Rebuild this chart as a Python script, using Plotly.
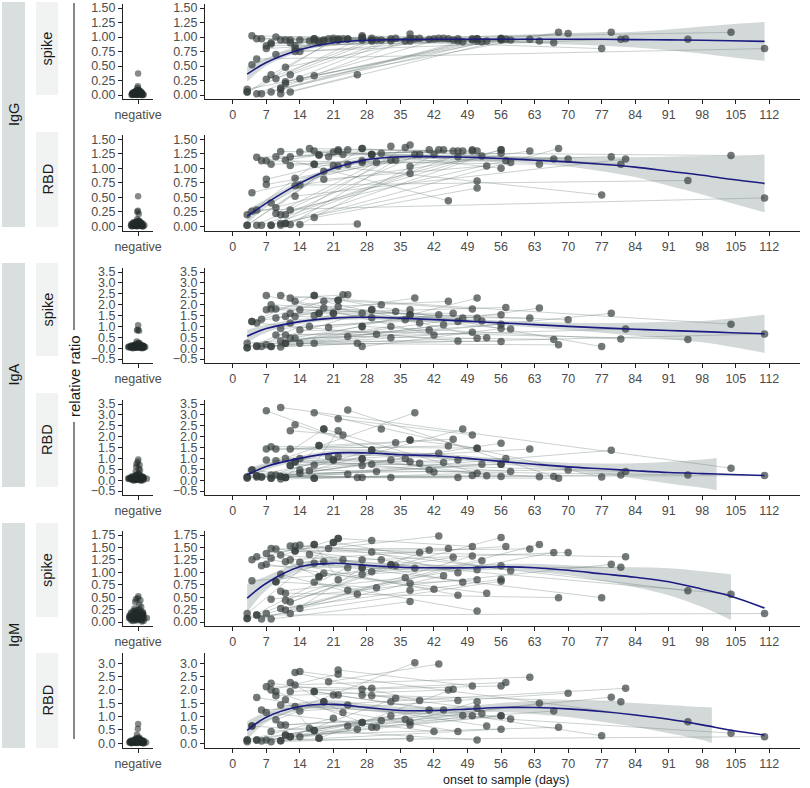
import plotly.graph_objects as go

W, H = 810, 788

# sample days for each patient (same samples in all six panels)
patient_days = [
    [3, 27], [3, 56], [3, 21], [4, 38], [4, 17], [5, 33], [5, 47], [5, 111], [6, 24], [6, 50],
    [7, 29], [7, 42], [7, 64], [8, 37], [8, 51], [8, 22], [8, 79], [9, 30], [9, 45], [9, 19],
    [10, 36], [10, 56], [10, 26], [10, 104], [11, 41], [11, 52], [11, 18], [11, 68], [12, 34], [12, 57],
    [12, 23], [13, 39], [13, 62], [13, 82], [14, 44], [14, 70], [14, 95], [16, 48], [17, 51], [17, 77],
    [18, 46], [19, 53], [20, 43], [21, 58], [22, 50], [24, 67], [27, 56], [27, 81], [29, 47], [29, 56],
    [31], [33], [37], [37, 51], [17, 22], [12, 27],
]

igg_spike = [
    [0.05, 0.98], [0.10, 0.96], [0.05, 0.95], [1.02, 0.97], [0.52, 0.97], [0.02, 0.93], [0.97, 0.97], [0.62, 0.80], [0.97, 0.97], [0.02, 0.97],
    [0.27, 0.95], [0.80, 0.97], [0.85, 0.93], [0.88, 0.98], [0.05, 0.97], [0.35, 0.97], [0.90, 1.08], [0.28, 0.95], [1.00, 0.97], [0.70, 0.93],
    [0.12, 0.93], [0.10, 0.98], [0.02, 0.35], [0.95, 1.08], [0.48, 0.96], [0.23, 0.92], [0.95, 0.93], [0.20, 1.08], [0.35, 0.98], [0.05, 0.96],
    [0.90, 0.97], [0.80, 0.98], [0.85, 0.96], [0.75, 0.97], [0.28, 0.98], [0.75, 1.06], [0.95, 0.96], [0.93, 0.92], [0.33, 0.93], [0.97, 0.80],
    [0.90, 0.95], [0.95, 0.93], [0.97, 0.98], [0.98, 0.95], [0.95, 0.95], [0.96, 0.90], [1.02, 0.97], [0.95, 0.96], [0.98, 0.93], [0.93, 0.95],
    [0.95], [0.97], [1.05], [0.93, 0.97], [0.93, 0.95], [0.95, 1.00],
]
igg_rbd = [
    [0.02, 1.34], [0.20, 1.32], [0.02, 1.05], [0.58, 1.24], [0.26, 1.07], [0.02, 1.14], [1.19, 1.30], [0.28, 0.49], [1.13, 1.32], [0.02, 1.32],
    [0.81, 1.24], [0.72, 1.24], [1.13, 1.07], [0.02, 0.91], [0.02, 0.78], [0.40, 1.04], [1.07, 1.20], [0.22, 1.10], [1.20, 0.44], [0.32, 0.95],
    [0.05, 1.36], [0.20, 1.32], [0.02, 0.04], [1.29, 1.22], [0.20, 1.32], [0.05, 1.21], [1.14, 1.23], [0.05, 1.34], [0.03, 1.14], [0.28, 1.13],
    [1.20, 1.24], [0.83, 1.24], [0.70, 1.30], [0.52, 1.16], [0.03, 1.32], [1.28, 1.16], [0.71, 0.79], [1.34, 1.30], [0.15, 0.66], [1.07, 0.54],
    [1.23, 1.30], [0.81, 1.04], [1.20, 1.32], [1.28, 1.10], [1.32, 1.30], [1.07, 1.16], [1.10, 1.26], [1.34, 1.07], [1.24, 1.20], [1.24, 1.00],
    [1.26], [1.38], [1.40], [1.03, 1.30], [1.30, 1.30], [1.05, 1.13],
]
iga_spike = [
    [0.02, 1.60], [0.22, 1.10], [0.02, 1.60], [1.22, 2.30], [1.22, 2.42], [0.10, 1.00], [1.15, 0.33], [0.08, 0.65], [1.33, 2.45], [0.07, 0.73],
    [1.76, 1.76], [2.42, 0.60], [0.15, 1.84], [0.07, 1.53], [2.00, 1.38], [1.80, 2.20], [0.07, 1.60], [0.60, 0.64], [1.80, 2.15], [1.38, 1.84],
    [0.90, 1.30], [0.33, 0.30], [0.05, 0.22], [2.42, 1.10], [0.60, 0.83], [0.22, 1.25], [1.45, 1.60], [0.22, 0.15], [1.15, 1.68], [1.60, 1.87],
    [2.30, 2.45], [2.15, 1.15], [1.45, 1.38], [0.45, 0.88], [0.22, 1.07], [1.76, 1.30], [0.83, 0.40], [1.00, 1.38], [0.22, 0.45], [2.42, 0.07],
    [1.60, 1.60], [2.15, 0.48], [0.95, 1.53], [1.60, 0.88], [2.20, 1.80], [0.53, 0.40], [0.07, 0.90], [1.00, 0.42], [1.76, 1.22], [1.40, 1.53],
    [2.00], [0.48], [1.76], [1.53, 2.30], [1.50, 1.90], [0.45, 1.00],
]
iga_rbd = [
    [0.09, 0.67], [0.14, 0.73], [0.14, 0.93], [0.47, 3.10], [0.47, 0.09], [0.20, 0.93], [0.20, 0.12], [0.14, 0.21], [0.14, 0.27], [0.14, 0.21],
    [1.43, 1.39], [3.19, 0.37], [0.93, 0.15], [0.09, 1.85], [1.54, 1.47], [0.24, 1.08], [0.09, 1.37], [0.24, 0.40], [1.43, 1.57], [0.89, 2.35],
    [0.17, 1.00], [0.17, 1.70], [0.05, 0.12], [3.34, 0.55], [1.00, 0.47], [0.12, 0.73], [0.12, 1.59], [0.12, 0.09], [1.43, 1.72], [0.67, 1.00],
    [2.27, 2.08], [2.55, 0.78], [0.85, 1.43], [0.85, 0.40], [1.00, 0.81], [0.32, 0.47], [0.47, 0.24], [0.43, 2.35], [0.09, 0.32], [3.10, 0.14],
    [1.59, 1.88], [2.35, 0.20], [1.08, 1.24], [0.93, 0.40], [2.82, 2.08], [3.22, 0.17], [0.98, 0.17], [0.12, 0.24], [1.39, 0.93], [0.73, 0.73],
    [2.35], [0.12], [0.85], [1.85, 1.47], [0.70, 2.27], [0.67, 0.98],
]
igm_spike = [
    [0.07, 1.25], [0.07, 0.82], [0.17, 1.60], [0.83, 1.08], [1.25, 1.56], [0.14, 1.15], [1.31, 0.54], [0.14, 0.17], [1.13, 1.09], [0.06, 1.33],
    [1.38, 1.64], [1.16, 0.66], [0.17, 1.56], [0.06, 0.41], [1.48, 1.05], [1.28, 1.68], [0.46, 1.16], [0.81, 0.69], [1.47, 1.48], [0.81, 1.21],
    [0.62, 0.89], [0.27, 0.86], [0.96, 0.56], [1.35, 0.56], [0.44, 1.45], [0.24, 1.23], [1.21, 0.91], [0.58, 0.49], [0.40, 1.13], [1.25, 1.52],
    [1.53, 1.25], [1.53, 1.40], [1.43, 1.47], [1.43, 1.31], [0.27, 0.93], [1.20, 1.40], [1.55, 0.63], [1.36, 0.80], [0.80, 0.22], [1.18, 0.49],
    [0.91, 1.30], [0.98, 0.58], [1.48, 1.73], [1.60, 1.03], [1.68, 1.52], [0.64, 1.40], [0.96, 1.13], [1.09, 1.10], [1.41, 0.99], [1.01, 1.70],
    [1.25], [1.15], [0.64], [0.78, 0.85], [1.56, 0.85], [0.17, 1.09],
]
igm_rbd = [
    [0.12, 0.78], [0.06, 1.03], [0.12, 0.94], [0.65, 3.02], [0.65, 0.48], [0.12, 1.03], [1.72, 0.44], [0.12, 0.25], [1.25, 1.44], [0.09, 1.03],
    [2.12, 2.06], [1.15, 0.44], [0.12, 1.50], [0.06, 0.19], [2.25, 1.31], [2.00, 2.59], [0.44, 1.73], [1.94, 0.60], [1.78, 2.00], [0.88, 1.56],
    [0.69, 0.90], [0.10, 0.53], [0.10, 0.53], [1.44, 0.38], [0.31, 1.25], [0.69, 1.12], [1.63, 0.19], [0.31, 0.60], [0.25, 1.69], [1.94, 2.28],
    [2.28, 1.15], [2.65, 1.60], [2.19, 2.48], [1.38, 2.06], [0.25, 1.25], [1.21, 1.88], [2.69, 0.81], [0.56, 1.04], [0.48, 0.12], [1.94, 0.28],
    [0.19, 2.03], [1.56, 0.65], [2.31, 2.97], [1.81, 0.91], [2.75, 2.15], [0.65, 1.21], [2.03, 2.15], [1.81, 1.56], [1.78, 1.60], [0.60, 1.03],
    [0.85], [1.56], [0.69], [0.81, 1.56], [1.94, 1.81], [0.25, 0.78],
]

# negative controls
neg_igg_spike = [0.37, 0.15, 0.12, 0.09, 0.08, 0.08, 0.07, 0.07, 0.06, 0.06, 0.06, 0.05, 0.05, 0.05, 0.05, 0.04, 0.04, 0.04, 0.04, 0.03,
                 0.03, 0.03, 0.03, 0.03, 0.02, 0.02, 0.02, 0.02, 0.02, 0.02, 0.01, 0.01, 0.01, 0.01, 0.01, 0.00, 0.00, 0.00, 0.00, 0.00,
                 0.06, 0.05, 0.04, 0.04, 0.03, 0.03, 0.02, 0.02, 0.02, 0.01, 0.01, 0.01, 0.00, 0.00, 0.03, 0.02, 0.05, 0.04, 0.01, 0.03]
neg_igg_rbd = [0.52, 0.27, 0.25, 0.21, 0.12, 0.10, 0.09, 0.08, 0.08, 0.07, 0.07, 0.06, 0.06, 0.06, 0.05, 0.05, 0.05, 0.05, 0.04, 0.04,
               0.04, 0.04, 0.03, 0.03, 0.03, 0.03, 0.02, 0.02, 0.02, 0.02, 0.02, 0.01, 0.01, 0.01, 0.01, 0.00, 0.00, 0.00, 0.00, 0.00,
               0.08, 0.07, 0.06, 0.05, 0.05, 0.04, 0.03, 0.03, 0.02, 0.02, 0.01, 0.01, 0.00, 0.00, 0.04, 0.03, 0.06, 0.02, 0.01, 0.05]
neg_iga_spike = [1.05, 0.85, 0.82, 0.80, 0.30, 0.25, 0.22, 0.20, 0.18, 0.17, 0.15, 0.15, 0.14, 0.13, 0.12, 0.12, 0.11, 0.10, 0.10, 0.09,
                 0.09, 0.08, 0.08, 0.07, 0.07, 0.06, 0.06, 0.05, 0.05, 0.05, 0.04, 0.04, 0.03, 0.03, 0.02, 0.02, 0.01, 0.01, 0.00, 0.00,
                 0.14, 0.12, 0.11, 0.10, 0.09, 0.08, 0.07, 0.06, 0.06, 0.05, 0.04, 0.04, 0.03, 0.02, 0.08, 0.10, 0.05, 0.07, 0.03, 0.12]
neg_iga_rbd = [0.95, 0.85, 0.75, 0.70, 0.62, 0.55, 0.45, 0.38, 0.32, 0.28, 0.25, 0.22, 0.20, 0.18, 0.17, 0.16, 0.15, 0.14, 0.13, 0.12,
               0.11, 0.10, 0.10, 0.09, 0.08, 0.08, 0.07, 0.06, 0.06, 0.05, 0.05, 0.04, 0.03, 0.02, 0.02, 0.01, 0.00, -0.01, -0.02, -0.03,
               0.20, 0.18, 0.15, 0.14, 0.12, 0.11, 0.10, 0.09, 0.08, 0.07, 0.06, 0.05, 0.04, 0.03, 0.12, 0.09, 0.06, 0.16, 0.02, 0.10]
neg_igm_spike = [0.52, 0.48, 0.46, 0.44, 0.40, 0.35, 0.30, 0.27, 0.25, 0.24, 0.23, 0.22, 0.21, 0.20, 0.19, 0.18, 0.17, 0.16, 0.15, 0.15,
                 0.14, 0.13, 0.12, 0.12, 0.11, 0.10, 0.10, 0.09, 0.08, 0.08, 0.07, 0.07, 0.06, 0.05, 0.05, 0.04, 0.04, 0.03, 0.03, 0.02,
                 0.02, 0.01, 0.22, 0.20, 0.18, 0.16, 0.14, 0.13, 0.12, 0.11, 0.10, 0.09, 0.08, 0.07, 0.06, 0.05, 0.15, 0.12, 0.09, 0.19]
neg_igm_rbd = [0.72, 0.55, 0.32, 0.22, 0.20, 0.18, 0.16, 0.15, 0.14, 0.13, 0.12, 0.11, 0.10, 0.10, 0.09, 0.09, 0.08, 0.08, 0.07, 0.07,
               0.06, 0.06, 0.05, 0.05, 0.05, 0.04, 0.04, 0.04, 0.03, 0.03, 0.03, 0.02, 0.02, 0.02, 0.01, 0.01, 0.01, 0.00, 0.00, 0.00,
               0.14, 0.12, 0.11, 0.10, 0.09, 0.08, 0.07, 0.06, 0.05, 0.04, 0.03, 0.03, 0.02, 0.01, 0.08, 0.06, 0.10, 0.04, 0.12, 0.05]

# smooth fits (blue line) and their confidence bands
fit_days = [3, 7, 14, 21, 28, 35, 42, 49, 56, 63, 70, 77, 84, 91, 98, 104, 111]
igg_spike_fit = [0.36, 0.56, 0.78, 0.90, 0.945, 0.955, 0.96, 0.96, 0.96, 0.96, 0.96, 0.96, 0.955, 0.95, 0.945, 0.935, 0.925]
igg_spike_hi = [0.49, 0.62, 0.82, 0.93, 0.97, 0.98, 0.99, 0.99, 1.01, 1.03, 1.05, 1.07, 1.09, 1.13, 1.18, 1.22, 1.26]
igg_spike_lo = [0.23, 0.50, 0.74, 0.87, 0.92, 0.93, 0.93, 0.93, 0.91, 0.89, 0.87, 0.85, 0.82, 0.77, 0.71, 0.65, 0.59]
igg_rbd_fit = [0.17, 0.40, 0.74, 1.00, 1.15, 1.20, 1.20, 1.19, 1.17, 1.14, 1.11, 1.07, 1.02, 0.95, 0.88, 0.81, 0.74]
igg_rbd_hi = [0.29, 0.47, 0.79, 1.04, 1.19, 1.24, 1.24, 1.23, 1.22, 1.20, 1.19, 1.19, 1.19, 1.20, 1.21, 1.22, 1.24]
igg_rbd_lo = [0.05, 0.33, 0.69, 0.96, 1.11, 1.16, 1.16, 1.15, 1.12, 1.08, 1.03, 0.95, 0.85, 0.70, 0.55, 0.40, 0.24]
iga_spike_fit = [0.55, 0.90, 1.22, 1.38, 1.42, 1.38, 1.31, 1.24, 1.16, 1.08, 1.00, 0.93, 0.87, 0.81, 0.76, 0.71, 0.66]
iga_spike_hi = [0.85, 1.08, 1.34, 1.48, 1.52, 1.48, 1.41, 1.34, 1.27, 1.21, 1.17, 1.15, 1.17, 1.21, 1.25, 1.36, 1.54]
iga_spike_lo = [0.25, 0.72, 1.10, 1.28, 1.32, 1.28, 1.21, 1.14, 1.05, 0.95, 0.83, 0.71, 0.57, 0.41, 0.27, 0.06, -0.22]
iga_rbd_fit = [0.24, 0.63, 1.00, 1.24, 1.25, 1.17, 1.12, 1.00, 0.86, 0.73, 0.61, 0.52, 0.43, 0.35, 0.30, 0.26, 0.21]
iga_rbd_band_days = [3, 7, 14, 21, 28, 35, 42, 49, 56, 63, 70, 77, 84, 91, 98, 101]
iga_rbd_hi = [0.54, 0.80, 1.12, 1.36, 1.37, 1.29, 1.24, 1.12, 0.99, 0.88, 0.79, 0.77, 0.78, 0.85, 0.95, 1.02]
iga_rbd_lo = [-0.06, 0.46, 0.88, 1.12, 1.13, 1.05, 1.00, 0.88, 0.73, 0.58, 0.43, 0.27, 0.08, -0.15, -0.35, -0.46]
igm_spike_fit = [0.48, 0.78, 1.11, 1.18, 1.14, 1.10, 1.09, 1.09, 1.11, 1.09, 1.04, 0.97, 0.90, 0.81, 0.66, 0.52, 0.28]
igm_spike_band_days = [3, 7, 14, 21, 28, 35, 42, 49, 56, 63, 70, 77, 84, 91, 98, 104]
igm_spike_hi = [0.77, 0.92, 1.19, 1.25, 1.20, 1.16, 1.15, 1.15, 1.17, 1.17, 1.14, 1.11, 1.10, 1.08, 1.02, 0.96]
igm_spike_lo = [0.19, 0.64, 1.03, 1.11, 1.08, 1.04, 1.03, 1.03, 1.05, 1.01, 0.94, 0.83, 0.70, 0.54, 0.30, 0.04]
igm_rbd_fit = [0.48, 0.98, 1.38, 1.46, 1.34, 1.23, 1.23, 1.28, 1.34, 1.34, 1.29, 1.19, 1.06, 0.90, 0.69, 0.49, 0.31]
igm_rbd_band_days = [3, 7, 14, 21, 28, 35, 42, 49, 56, 63, 70, 77, 84, 91, 98, 100]
igm_rbd_hi = [0.83, 1.18, 1.53, 1.61, 1.47, 1.36, 1.36, 1.41, 1.51, 1.59, 1.59, 1.57, 1.51, 1.44, 1.36, 1.34]
igm_rbd_lo = [0.13, 0.78, 1.23, 1.31, 1.21, 1.10, 1.10, 1.15, 1.17, 1.09, 0.99, 0.81, 0.61, 0.38, 0.12, 0.00]

day_ticks = [0, 7, 14, 21, 28, 35, 42, 49, 56, 63, 70, 77, 84, 91, 98, 105, 112]
ticks_igg = [0, 0.25, 0.5, 0.75, 1.0, 1.25, 1.5]
ticks_iga = [-0.5, 0, 0.5, 1.0, 1.5, 2.0, 2.5, 3.0, 3.5]
ticks_igm_spike = [0, 0.25, 0.5, 0.75, 1.0, 1.25, 1.5, 1.75]
ticks_igm_rbd = [0, 0.5, 1.0, 1.5, 2.0, 2.5, 3.0]

FONT = "Liberation Sans, Arial, sans-serif"
tick_font = dict(family=FONT, size=12.5, color="#4d4d4d")
AX = "#222222"

rows = [
    dict(antigen="spike", vals=igg_spike, neg=neg_igg_spike, fit=igg_spike_fit, band=fit_days,
         lo=igg_spike_lo, hi=igg_spike_hi, top=3.65, bot=99.35, yr=[-0.075, 1.575], ticks=ticks_igg, fmt=".2f", strip=(2, 95)),
    dict(antigen="RBD", vals=igg_rbd, neg=neg_igg_rbd, fit=igg_rbd_fit, band=fit_days,
         lo=igg_rbd_lo, hi=igg_rbd_hi, top=134.95, bot=230.65, yr=[-0.075, 1.575], ticks=ticks_igg, fmt=".2f", strip=(132, 227)),
    dict(antigen="spike", vals=iga_spike, neg=neg_iga_spike, fit=iga_spike_fit, band=fit_days,
         lo=iga_spike_lo, hi=iga_spike_hi, top=267.65, bot=363.35, yr=[-0.7, 3.7], ticks=ticks_iga, fmt=".1f", strip=(263, 356)),
    dict(antigen="RBD", vals=iga_rbd, neg=neg_iga_rbd, fit=iga_rbd_fit, band=iga_rbd_band_days,
         lo=iga_rbd_lo, hi=iga_rbd_hi, top=399.65, bot=495.35, yr=[-0.7, 3.7], ticks=ticks_iga, fmt=".1f", strip=(393, 487)),
    dict(antigen="spike", vals=igm_spike, neg=neg_igm_spike, fit=igm_spike_fit, band=igm_spike_band_days,
         lo=igm_spike_lo, hi=igm_spike_hi, top=530.65, bot=626.35, yr=[-0.0875, 1.8375], ticks=ticks_igm_spike, fmt=".2f", strip=(523, 617)),
    dict(antigen="RBD", vals=igm_rbd, neg=neg_igm_rbd, fit=igm_rbd_fit, band=igm_rbd_band_days,
         lo=igm_rbd_lo, hi=igm_rbd_hi, top=652.6, bot=747.7, yr=[-0.165, 3.4], ticks=ticks_igm_rbd, fmt=".1f", strip=(653, 748)),
]
groups = [("IgG", 2, 227), ("IgA", 263, 487), ("IgM", 523, 748)]


def px_x(x):
    return x / W


def px_y(y):
    return 1 - y / H


def axis_style(**kw):
    d = dict(showline=True, linecolor=AX, linewidth=1, ticks="outside", ticklen=4, tickwidth=1,
             tickcolor=AX, showgrid=False, zeroline=False, tickfont=tick_font, fixedrange=True,
             automargin=False)
    d.update(kw)
    return d


fig = go.Figure()
layout = {}
shapes = []
annotations = []

for i, r in enumerate(rows):
    n_neg, n_main = 2 * i + 1, 2 * i + 2
    xa_neg = "x" if n_neg == 1 else "x%d" % n_neg
    ya_neg = "y" if n_neg == 1 else "y%d" % n_neg
    xa_main, ya_main = "x%d" % n_main, "y%d" % n_main

    # negative controls
    fig.add_trace(go.Box(
        x=["negative"] * len(r["neg"]), y=r["neg"], xaxis=xa_neg, yaxis=ya_neg,
        boxpoints="all", jitter=1, pointpos=0, width=0.8,
        fillcolor="rgba(0,0,0,0)", line=dict(color="rgba(0,0,0,0)", width=0),
        marker=dict(size=6.5, color="rgba(35,42,41,0.55)", line=dict(width=0)),
        showlegend=False, hoverinfo="y"))

    # confidence band
    fig.add_trace(go.Scatter(x=r["band"], y=r["lo"], xaxis=xa_main, yaxis=ya_main, mode="lines",
                             line=dict(width=0, shape="spline"), showlegend=False, hoverinfo="skip"))
    fig.add_trace(go.Scatter(x=r["band"], y=r["hi"], xaxis=xa_main, yaxis=ya_main, mode="lines",
                             line=dict(width=0, shape="spline"), fill="tonexty",
                             fillcolor="rgba(145,160,158,0.4)", showlegend=False, hoverinfo="skip"))

    # per-patient lines and points
    lx, ly, px, py = [], [], [], []
    for d, v in zip(patient_days, r["vals"]):
        lx += d + [None]
        ly += v + [None]
        px += d
        py += v
    fig.add_trace(go.Scatter(x=lx, y=ly, xaxis=xa_main, yaxis=ya_main, mode="lines",
                             line=dict(color="rgba(110,125,123,0.45)", width=0.8),
                             showlegend=False, hoverinfo="skip"))
    fig.add_trace(go.Scatter(x=px, y=py, xaxis=xa_main, yaxis=ya_main, mode="markers",
                             marker=dict(size=7.5, color="rgba(55,63,62,0.7)", line=dict(width=0)),
                             showlegend=False))

    # smooth fit
    fig.add_trace(go.Scatter(x=fit_days, y=r["fit"], xaxis=xa_main, yaxis=ya_main, mode="lines",
                             line=dict(color="#1b1b82", width=1.6, shape="spline"),
                             showlegend=False, hoverinfo="skip"))

    ydom = [px_y(r["bot"]), px_y(r["top"])]
    key_neg = "" if n_neg == 1 else str(n_neg)
    layout["xaxis" + key_neg] = axis_style(domain=[px_x(123), px_x(153)], anchor=ya_neg,
                                           type="category", range=[-0.6, 0.6])
    layout["yaxis" + key_neg] = axis_style(domain=ydom, anchor=xa_neg, range=r["yr"],
                                           tickvals=r["ticks"], tickformat=r["fmt"])
    layout["xaxis%d" % n_main] = axis_style(domain=[px_x(205), px_x(800)], anchor=ya_main,
                                             range=[-5.8, 118.4], tickvals=day_ticks)
    layout["yaxis%d" % n_main] = axis_style(domain=ydom, anchor=xa_main, range=r["yr"],
                                             tickvals=r["ticks"], tickformat=r["fmt"])

    # inner strip (antigen)
    t, b = r["strip"]
    shapes.append(dict(type="rect", xref="paper", yref="paper", x0=px_x(36), x1=px_x(58),
                       y0=px_y(b), y1=px_y(t), fillcolor="#f1f3f3", line=dict(width=0), layer="below"))
    annotations.append(dict(text=r["antigen"], x=px_x(47), y=px_y((t + b) / 2), xref="paper", yref="paper",
                            textangle=-90, showarrow=False, xanchor="center", yanchor="middle",
                            font=dict(family=FONT, size=14.5, color="#1a1a1a")))

# outer strips (isotype)
for label, t, b in groups:
    shapes.append(dict(type="rect", xref="paper", yref="paper", x0=px_x(2), x1=px_x(25),
                       y0=px_y(b), y1=px_y(t), fillcolor="#d8dfde", line=dict(width=0), layer="below"))
    annotations.append(dict(text=label, x=px_x(13.5), y=px_y((t + b) / 2), xref="paper", yref="paper",
                            textangle=-90, showarrow=False, xanchor="center", yanchor="middle",
                            font=dict(family=FONT, size=14.5, color="#1a1a1a")))

# shared y title with its bracket line
for y0, y1 in [(3, 330), (422, 739)]:
    shapes.append(dict(type="line", xref="paper", yref="paper", x0=px_x(74), x1=px_x(74),
                       y0=px_y(y0), y1=px_y(y1), line=dict(color="#111111", width=1)))
annotations.append(dict(text="relative ratio", x=px_x(74), y=px_y(376), xref="paper", yref="paper",
                        textangle=-90, showarrow=False, xanchor="center", yanchor="middle",
                        font=dict(family=FONT, size=15, color="#1a1a1a")))
annotations.append(dict(text="onset to sample (days)", x=px_x(506), y=px_y(771), xref="paper", yref="paper",
                        showarrow=False, xanchor="center", yanchor="top",
                        font=dict(family=FONT, size=12.5, color="#1a1a1a")))

fig.update_layout(width=W, height=H, margin=dict(l=0, r=0, t=0, b=0, pad=0),
                  template="none", paper_bgcolor="white", plot_bgcolor="white",
                  shapes=shapes, annotations=annotations, showlegend=False, **layout)

# drop the default page margin so the figure sits at the window's top-left corner
fig.write_html("out.html", config={"displayModeBar": False},
               post_script="document.body.style.margin='0';")
